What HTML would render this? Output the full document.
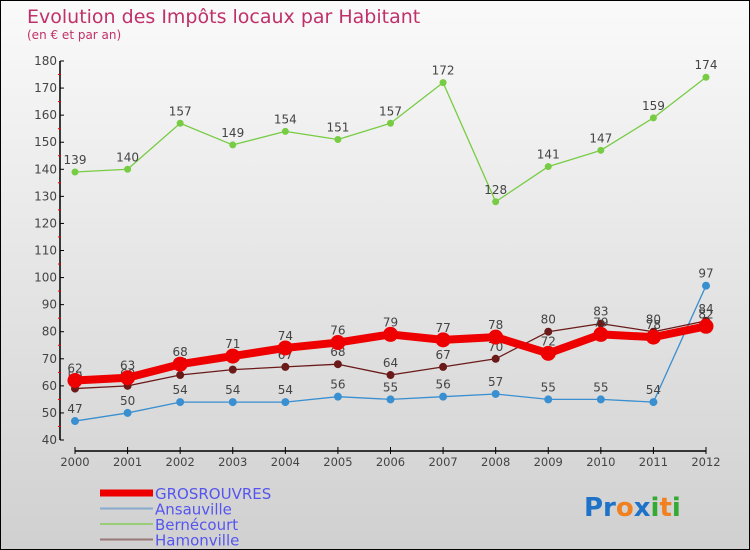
<!DOCTYPE html>
<html><head><meta charset="utf-8"><style>
body{margin:0;}
#wrap{position:relative;width:748px;height:548px;border:1px solid #000;background:linear-gradient(#fafafa,#d0d0d0);font-family:"DejaVu Sans","Liberation Sans",sans-serif;overflow:hidden}
</style></head><body>
<div id="wrap">
<svg id="chart" width="748" height="548"></svg>
</div>
<script>
const years=["2000","2001","2002","2003","2004","2005","2006","2007","2008","2009","2010","2011","2012"];
const grosrouvres=[62,63,68,71,74,76,79,77,78,72,79,78,82];
const ansauville=[47,50,54,54,54,56,55,56,57,55,55,54,97];
const bernecourt=[139,140,157,149,154,151,157,172,128,141,147,159,174];
const hamonville=[59,60,64,66,67,68,64,67,70,80,83,80,84];
const yTicks=[40,50,60,70,80,90,100,110,120,130,140,150,160,170,180];

const NS="http://www.w3.org/2000/svg";
const svg=document.getElementById('chart');
function X(i){return 74+i*(705-74)/(years.length-1);}
function Y(v){return 439-(v-40)*(439-60)/140;}
function mk(t,a,p){const e=document.createElementNS(NS,t);for(const k in a)e.setAttribute(k,a[k]);(p||svg).appendChild(e);return e;}

let t=mk('text',{x:26,y:22,'font-size':19,fill:'#c0306a'});t.textContent='Evolution des Impôts locaux par Habitant';


t=mk('text',{x:26,y:38,'font-size':12,fill:'#c0306a'});t.textContent='(en € et par an)';



// y axis
let ax=mk('line',{x1:59,y1:60,x2:59,y2:439,stroke:'#000','stroke-width':1.5});


yTicks.forEach(v=>{
  mk('line',{x1:59,y1:Y(v),x2:63,y2:Y(v),stroke:'#000'});
  if(v<180) mk('line',{x1:57,y1:Y(v+5),x2:60,y2:Y(v+5),stroke:'#e00'});
  const l=mk('text',{x:56,y:Y(v)+4,'font-size':12,fill:'#444','text-anchor':'end'});l.textContent=v;
  
  
});
// x axis
ax=mk('line',{x1:74,y1:450,x2:705,y2:450,stroke:'#000','stroke-width':1.5});


years.forEach((y,i)=>{
  mk('line',{x1:X(i),y1:446,x2:X(i),y2:453,stroke:'#000'});
  const l=mk('text',{x:X(i),y:465,'font-size':11.5,fill:'#444','text-anchor':'middle'});l.textContent=y;
  
  
});

function series(data,color,w,r,name){
  const g=mk('g',{});
  
  
  mk('polyline',{points:data.map((v,i)=>X(i)+','+Y(v)).join(' '),fill:'none',stroke:color,'stroke-width':w,'stroke-linejoin':'round'},g);
  data.forEach((v,i)=>{
    const c=mk('circle',{cx:X(i),cy:Y(v),r:r,fill:color},g);
    
    
    const l=mk('text',{x:X(i),y:Y(v)-8,'font-size':12,fill:'#444','text-anchor':'middle'},g);
    l.textContent=v;
    
    
  });
}
series(ansauville,'#3a8fd0',1.3,4,'ansauville');
series(bernecourt,'#77cc44',1.3,3.5,'bernecourt');
series(hamonville,'#6b1a1a',1.3,4,'hamonville');
series(grosrouvres,'#ee0000',8,7.5,'grosrouvres');

// legend
const leg=[['GROSROUVRES','#ee0000',7],['Ansauville','#88aacc',2],['Bernécourt','#99cc77',2],['Hamonville','#997777',2]];
leg.forEach((d,i)=>{
  const y=492+i*15.5;
  const g=mk('g',{});
  
  
  mk('line',{x1:99,y1:y,x2:152,y2:y,stroke:d[1],'stroke-width':d[2]},g);
  const l=mk('text',{x:154,y:y+6,'font-size':15,fill:'#5555ee'},g);l.textContent=d[0];
});
// logo
const logo=mk('text',{x:583,y:515,'font-size':26,'font-weight':'bold'});


[['Pr','#1e73c8'],['o','#f08020'],['x','#1e73c8'],['i','#33aa33'],['t','#f08020'],['i','#33aa33']].forEach(p=>{mk('tspan',{fill:p[1]},logo).textContent=p[0];});
</script>
</body></html>
